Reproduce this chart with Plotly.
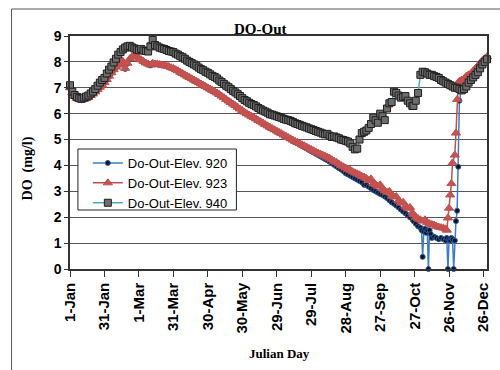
import plotly.graph_objects as go

# Day-of-year axis (leap year), ticks every 30 days
tick_days = [1, 31, 61, 91, 121, 151, 181, 211, 241, 271, 301, 331, 361]
tick_labels = ["1-Jan", "31-Jan", "1-Mar", "31-Mar", "30-Apr", "30-May", "29-Jun",
               "29-Jul", "28-Aug", "27-Sep", "27-Oct", "26-Nov", "26-Dec"]

# Regular sampling (every 2 days) for Jan - late Oct
base_days = list(range(1, 300, 2))

do_940_base = [
    7.10, 6.85, 6.72, 6.65, 6.60, 6.58, 6.62, 6.66, 6.70, 6.78,
    6.85, 6.95, 7.08, 7.20, 7.30, 7.38, 7.55, 7.70, 7.82, 7.98,
    8.12, 8.28, 8.38, 8.48, 8.55, 8.60, 8.62, 8.56, 8.52, 8.48,
    8.45, 8.50, 8.44, 8.42, 8.40, 8.60, 8.85, 8.65, 8.60, 8.55,
    8.52, 8.50, 8.46, 8.42, 8.40, 8.38, 8.32, 8.28, 8.22, 8.18,
    8.12, 8.05, 8.00, 7.95, 7.90, 7.85, 7.78, 7.72, 7.68, 7.62,
    7.58, 7.52, 7.46, 7.42, 7.36, 7.28, 7.22, 7.15, 7.08, 7.02,
    6.95, 6.88, 6.82, 6.75, 6.68, 6.60, 6.53, 6.48, 6.42, 6.37,
    6.33, 6.28, 6.22, 6.17, 6.12, 6.08, 6.04, 5.98, 5.96, 5.93,
    5.90, 5.87, 5.84, 5.80, 5.77, 5.75, 5.72, 5.68, 5.63, 5.60,
    5.57, 5.53, 5.50, 5.47, 5.43, 5.40, 5.37, 5.33, 5.30, 5.27,
    5.23, 5.20, 5.22, 5.15, 5.10, 5.12, 5.08, 5.05, 5.00, 4.98,
    4.95, 4.92, 4.85, 4.72, 4.62, 4.65, 5.00, 5.25, 5.30, 5.35,
    5.45, 5.60, 5.85, 5.75, 5.65, 6.00, 5.90, 5.75, 6.20, 6.40,
    6.45, 6.85, 6.80, 6.70, 6.62, 6.65, 6.68, 6.50, 6.40, 6.30,
]
do_923_base = [
    7.00, 6.80, 6.68, 6.60, 6.55, 6.54, 6.55, 6.58, 6.63, 6.70,
    6.76, 6.84, 6.93, 7.02, 7.10, 7.20, 7.32, 7.45, 7.58, 7.70,
    7.80, 7.88, 7.96, 8.02, 7.75, 7.95, 8.12, 8.20, 8.24, 8.26,
    8.12, 8.08, 8.02, 7.96, 7.92, 7.88, 7.95, 7.92, 7.92, 7.90,
    7.88, 7.87, 7.85, 7.82, 7.78, 7.75, 7.70, 7.66, 7.60, 7.55,
    7.50, 7.45, 7.40, 7.35, 7.30, 7.25, 7.20, 7.15, 7.10, 7.05,
    7.00, 6.95, 6.90, 6.85, 6.80, 6.74, 6.68, 6.62, 6.55, 6.49,
    6.43, 6.37, 6.31, 6.25, 6.18, 6.12, 6.06, 6.00, 5.95, 5.90,
    5.85, 5.80, 5.74, 5.69, 5.64, 5.58, 5.53, 5.48, 5.43, 5.38,
    5.33, 5.28, 5.23, 5.18, 5.13, 5.08, 5.03, 4.98, 4.93, 4.89,
    4.85, 4.80, 4.76, 4.71, 4.66, 4.62, 4.57, 4.52, 4.48, 4.44,
    4.40, 4.36, 4.32, 4.28, 4.22, 4.16, 4.12, 4.06, 4.00, 3.95,
    3.90, 3.85, 3.82, 3.76, 3.72, 3.68, 3.64, 3.58, 3.55, 3.50,
    3.42, 3.48, 3.30, 3.26, 3.20, 3.25, 3.10, 3.02, 2.96, 3.00,
    2.82, 2.78, 2.80, 2.64, 2.55, 2.58, 2.42, 2.35, 2.38, 2.18,
]
do_920_base = [
    6.98, 6.78, 6.66, 6.58, 6.53, 6.52, 6.53, 6.56, 6.61, 6.68,
    6.74, 6.82, 6.91, 7.00, 7.08, 7.18, 7.30, 7.43, 7.56, 7.68,
    7.78, 7.86, 7.94, 8.00, 7.73, 7.93, 8.10, 8.18, 8.22, 8.24,
    8.10, 8.06, 8.00, 7.94, 7.90, 7.86, 7.93, 7.90, 7.90, 7.88,
    7.86, 7.85, 7.83, 7.80, 7.76, 7.73, 7.68, 7.64, 7.58, 7.53,
    7.47, 7.42, 7.37, 7.32, 7.27, 7.22, 7.17, 7.12, 7.07, 7.02,
    6.97, 6.92, 6.87, 6.82, 6.77, 6.71, 6.65, 6.59, 6.52, 6.46,
    6.40, 6.34, 6.28, 6.22, 6.15, 6.09, 6.03, 5.97, 5.92, 5.87,
    5.82, 5.77, 5.71, 5.66, 5.61, 5.55, 5.50, 5.45, 5.40, 5.35,
    5.30, 5.25, 5.20, 5.15, 5.10, 5.05, 5.00, 4.95, 4.90, 4.85,
    4.80, 4.75, 4.70, 4.65, 4.60, 4.55, 4.50, 4.45, 4.40, 4.35,
    4.30, 4.25, 4.20, 4.14, 4.08, 4.02, 3.96, 3.90, 3.84, 3.78,
    3.70, 3.65, 3.60, 3.55, 3.50, 3.45, 3.40, 3.35, 3.25, 3.24,
    3.18, 3.12, 3.05, 3.00, 2.95, 2.90, 2.86, 2.80, 2.74, 2.66,
    2.58, 2.52, 2.45, 2.38, 2.30, 2.22, 2.15, 2.08, 2.00, 1.92,
]

# Late-season records
tail_days_940 = [300, 302, 304, 306, 308, 310, 312, 314, 316, 318, 320, 322, 324,
                 326, 328, 330, 332, 334, 336, 338, 340, 342, 344, 346, 348, 350,
                 352, 354, 356, 358, 360, 362, 364]
tail_do_940 = [6.30, 6.50, 6.80, 7.50, 7.62, 7.60, 7.55, 7.50, 7.50, 7.45, 7.42,
               7.38, 7.30, 7.25, 7.20, 7.15, 7.10, 7.05, 7.00, 7.00, 6.95, 6.90,
               6.95, 7.05, 7.20, 7.30, 7.40, 7.50, 7.60, 7.75, 7.90, 8.00, 8.10]

tail_days_923 = [300, 302, 304, 306, 308, 310, 312, 314, 316, 318, 320, 322, 324,
                 326, 328, 329, 330, 331, 332, 333, 334, 336, 337, 338, 339, 340,
                 342, 344, 346, 348, 350, 352, 354, 356, 358, 360, 362, 364]
tail_do_923 = [2.10, 2.00, 1.95, 1.90, 1.85, 1.90, 1.80, 1.75, 1.72, 1.70, 1.65,
               1.62, 1.60, 1.58, 1.55, 1.50, 1.97, 2.35, 2.86, 3.30, 4.10, 4.40,
               5.25, 6.55, 7.20, 7.25, 7.30, 7.35, 7.45, 7.50, 7.55, 7.65, 7.75,
               7.85, 7.95, 8.05, 8.12, 8.20]

tail_days_920 = [300, 302, 304, 306, 307, 308, 309, 310, 311, 312, 313, 314, 315,
                 316, 318, 320, 322, 324, 326, 328, 329, 330, 331, 332, 333, 334,
                 335, 336, 337, 338, 339, 340, 342, 344, 346, 348, 350, 352, 354,
                 356, 358, 360, 362, 364]
tail_do_920 = [1.85, 1.75, 1.65, 1.60, 1.50, 0.47, 1.45, 1.55, 1.40, 1.50, 0.00,
               1.50, 1.35, 1.20, 1.25, 1.20, 1.15, 1.20, 1.15, 1.10, 1.20, 0.00,
               1.15, 1.10, 1.20, 1.15, 0.00, 1.10, 1.85, 2.25, 3.95, 6.50, 7.00,
               6.95, 7.05, 7.20, 7.30, 7.40, 7.50, 7.60, 7.75, 7.90, 8.00, 8.10]

series = [
    dict(name="Do-Out-Elev. 920", days=base_days + tail_days_920, vals=do_920_base + tail_do_920,
         line="#3d7cc9", symbol="circle", size=5, fill="#0b1426", edge="#2a5a9a"),
    dict(name="Do-Out-Elev. 923", days=base_days + tail_days_923, vals=do_923_base + tail_do_923,
         line="#c0504d", symbol="triangle-up", size=8, fill="#c8524f", edge="#c0504d"),
    dict(name="Do-Out-Elev. 940", days=base_days + tail_days_940, vals=do_940_base + tail_do_940,
         line="#4bacc6", symbol="square", size=7, fill="#6e6e6e", edge="#1e1e1e"),
]

fig = go.Figure()
for s in series:
    fig.add_trace(go.Scatter(
        x=s["days"], y=s["vals"], name=s["name"], mode="lines+markers",
        line=dict(color=s["line"], width=1.5),
        marker=dict(symbol=s["symbol"], size=s["size"], color=s["fill"],
                    line=dict(color=s["edge"], width=1)),
        cliponaxis=False,
    ))

W, H = 500, 370
L, R, T, B = 70, 9, 36, 101
pw, ph = W - L - R, H - T - B


def px(x):
    return (x - L) / pw


def py(y):
    return (H - B - y) / ph


tick_font = dict(family="Liberation Sans, Arial", color="black", weight="bold")
serif = dict(family="Liberation Serif, Times New Roman", color="black", weight="bold")

fig.update_layout(
    width=W, height=H, autosize=False,
    margin=dict(l=L, r=R, t=T, b=B),
    paper_bgcolor="white", plot_bgcolor="white",
    showlegend=True,
    legend=dict(x=px(88), y=py(148), xanchor="left", yanchor="top",
                bgcolor="rgba(0,0,0,0)", borderwidth=0,
                font=dict(family="Liberation Sans, Arial", size=13, color="black")),
    xaxis=dict(range=[1, 364], tickmode="array", tickvals=tick_days, ticktext=tick_labels,
               tickangle=-90, tickfont=dict(size=15, **tick_font), ticks="outside",
               ticklen=6, tickcolor="#333", showline=True, linecolor="#333",
               linewidth=1.5, mirror=True, showgrid=False, zeroline=False),
    yaxis=dict(range=[0, 9], dtick=1, tickfont=dict(size=14, **tick_font),
               ticks="outside", ticklen=4, tickcolor="#333", showline=True,
               linecolor="#333", linewidth=1.5, mirror=True, showgrid=True,
               gridcolor="#555", gridwidth=1.3, zeroline=False),
    shapes=[
        # outer chart frame
        dict(type="rect", xref="paper", yref="paper", x0=px(11), x1=px(540),
             y0=py(9), y1=py(420), line=dict(color="#555", width=1), layer="below"),
        # legend box
        dict(type="rect", xref="paper", yref="paper", x0=px(78), x1=px(238),
             y0=py(149), y1=py(210), line=dict(color="#222", width=1),
             fillcolor="white", layer="above"),
    ],
    annotations=[
        dict(text="DO-Out", x=px(262), y=py(29), xref="paper", yref="paper",
             xanchor="center", yanchor="middle", showarrow=False,
             font=dict(size=15, **serif)),
        dict(text="Julian Day", x=px(282), y=py(353), xref="paper", yref="paper",
             xanchor="center", yanchor="middle", showarrow=False,
             font=dict(size=13, **serif)),
        dict(text="DO  (mg/l)", x=px(28), y=py(168), xref="paper", yref="paper",
             xanchor="center", yanchor="middle", showarrow=False, textangle=-90,
             font=dict(size=14, **serif)),
    ],
)

fig.write_html("out.html")
